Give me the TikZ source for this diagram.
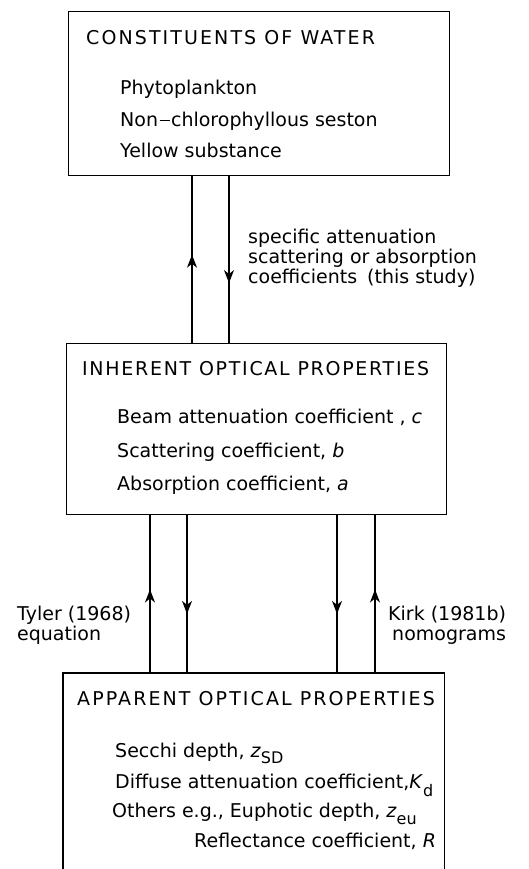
\documentclass[tikz,border=0pt]{standalone}
\usepackage{fontspec}
\setmainfont{DejaVu Sans}
\newfontfamily\titlefont[LetterSpace=11]{DejaVu Sans}
\newfontfamily\titlefontb[LetterSpace=9]{DejaVu Sans}
\usetikzlibrary{arrows.meta,decorations.markings}
\newcommand\lowsub[2]{\raisebox{-#1}{\fontsize{16}{16}\selectfont #2}}
\begin{document}
\begin{tikzpicture}[x=1pt,y=-1pt,
  box/.style={draw, line width=1.4pt, inner sep=0pt, anchor=north west},
  frame/.style={inner sep=0pt, anchor=north west},
  txt/.style={anchor=base west, inner sep=0pt, font=\fontsize{19}{20}\selectfont},
  ttl/.style={anchor=base west, inner sep=0pt, font=\fontsize{19}{20}\selectfont\titlefont},
  ttlb/.style={anchor=base west, inner sep=0pt, font=\fontsize{19}{20}\selectfont\titlefontb},
  link/.style={line width=1.1pt},
  midarrow/.style={postaction={decorate}, decoration={markings,
    mark=at position #1 with {\arrow{Stealth[length=13pt,width=10pt,inset=4pt]}}}}
]
\useasboundingbox (0,0) rectangle (529,869);

% boxes
\node[box, minimum width=381pt, minimum height=164pt] (b1) at (68,11) {};
\node[box, minimum width=380pt, minimum height=171pt] (b2) at (66,343) {};
\node[frame, minimum width=381pt, minimum height=210pt] (b3) at (63,673) {};
\draw[line width=1.4pt] (b3.south west) -- (b3.north west) -- (b3.north east) -- (b3.south east);

% box 1 text
\node[ttl] (t1) at (86,45) {CONSTITUENTS OF WATER};
\node[txt] (t1a) at (120,95) {Phytoplankton};
\node[txt] (t1b) at (120,127) {Non{\kern1.5pt}\rule[5.5pt]{10pt}{1.4pt}{\kern1.5pt}chlorophyllous seston};
\node[txt] (t1c) at (120,158) {Yellow substance};

% box 2 text
\node[ttlb] (t2) at (82,375) {INHERENT OPTICAL PROPERTIES};
\node[txt] (t2a) at (117,423) {Beam attenuation coefficient , \textit{c}};
\node[txt] (t2b) at (117,457) {Scattering coefficient, \textit{b}};
\node[txt] (t2c) at (117,490) {Absorption coefficient, \textit{a}};

% box 3 text
\node[ttl] (t3) at (77,705) {APPARENT OPTICAL PROPERTIES};
\node[txt] (t3a) at (115,757) {Secchi depth, \textit{z}\lowsub{6pt}{SD}};
\node[txt] (t3b) at (115,788) {Diffuse attenuation coefficient,\textit{K}\lowsub{8pt}{d}};
\node[txt] (t3c) at (112,817) {Others e.g., Euphotic depth, \textit{z}\lowsub{7pt}{eu}};
\node[txt] (t3d) at (194,847) {Reflectance coefficient, \textit{R}};

% connector positions
\coordinate (xa) at (192,0);
\coordinate (xb) at (229,0);
\coordinate (xc) at (150,0);
\coordinate (xd) at (187,0);
\coordinate (xe) at (337,0);
\coordinate (xf) at (375,0);

\draw[link, midarrow=0.53] (b2.north -| xa) -- (b1.south -| xa);
\draw[link, midarrow=0.64] (b1.south -| xb) -- (b2.north -| xb);
\draw[link, midarrow=0.53] (b3.north -| xc) -- (b2.south -| xc);
\draw[link, midarrow=0.625] (b2.south -| xd) -- (b3.north -| xd);
\draw[link, midarrow=0.625] (b2.south -| xe) -- (b3.north -| xe);
\draw[link, midarrow=0.53] (b3.north -| xf) -- (b2.south -| xf);

% connector labels
\node[txt] (l1) at (248,243) {specific attenuation};
\node[txt] (l2) at (248,263) {scattering or absorption};
\node[txt] (l3) at (248,283) {coefficients\kern4pt{} (this study)};
\node[txt] (l4) at (17,620) {Tyler (1968)};
\node[txt] (l5) at (17,640) {equation};
\node[txt] (l6) at (388,620) {Kirk (1981b)};
\node[txt] (l7) at (392,640) {nomograms};
\end{tikzpicture}
\end{document}
